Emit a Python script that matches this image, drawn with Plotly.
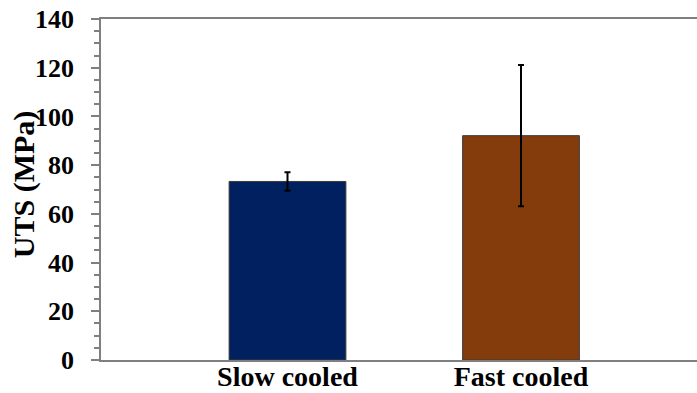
import plotly.graph_objects as go

categories = ["Slow cooled", "Fast cooled"]
uts_mean = [73.3, 92.1]
uts_err = [3.8, 29.0]
bar_colors = ["#002060", "#843C0C"]
y_tickvals = [0, 20, 40, 60, 80, 100, 120, 140]
y_title = "UTS (MPa)"

x_pos = list(range(len(categories)))

fig = go.Figure()
fig.add_trace(go.Bar(
    x=x_pos, y=uts_mean, width=0.5,
    marker=dict(color=bar_colors, line=dict(color="#3a3a3a", width=1)),
    error_y=dict(type="data", array=uts_err, visible=True, color="black",
                 thickness=2, width=3),
))

font_fam = "Liberation Serif"
fig.update_layout(
    width=697, height=393,
    margin=dict(l=101, r=0, t=19, b=33, autoexpand=False),
    paper_bgcolor="white", plot_bgcolor="white",
    showlegend=False,
    font=dict(family=font_fam, color="black"),
    xaxis=dict(
        range=[-0.7987, 1.7537], tickmode="array", tickvals=x_pos,
        ticktext=categories, showgrid=False, zeroline=False, automargin=False,
        showline=True, linecolor="#7f7f7f", linewidth=1.5, mirror=True,
        ticks="", tickfont=dict(family=font_fam, size=28, weight="bold", color="black"),
        ticklabelstandoff=-9, ticklabeloverflow="allow",
    ),
    yaxis=dict(
        range=[0, 140], tickvals=y_tickvals, showgrid=False, zeroline=False,
        automargin=False,
        showline=True, linecolor="#7f7f7f", linewidth=1.5,
        ticks="outside", ticklen=8, tickwidth=1.5, tickcolor="#7f7f7f",
        minor=dict(dtick=5, ticks="outside", ticklen=5, tickwidth=1.5, tickcolor="#7f7f7f"),
        tickfont=dict(family=font_fam, size=26, weight="bold", color="black"),
        ticklabelstandoff=12, ticklabeloverflow="allow",
    ),
    annotations=[dict(
        text=y_title, xref="paper", yref="paper", x=-0.128, y=0.5147,
        xanchor="center", yanchor="middle", textangle=-90, showarrow=False,
        font=dict(family=font_fam, size=30, weight="bold", color="black"),
    )],
)

# remove the browser's default 8px page margin so the figure fills the window
fig.write_html("out.html", config={"displayModeBar": False},
               post_script="document.body.style.margin='0';")
